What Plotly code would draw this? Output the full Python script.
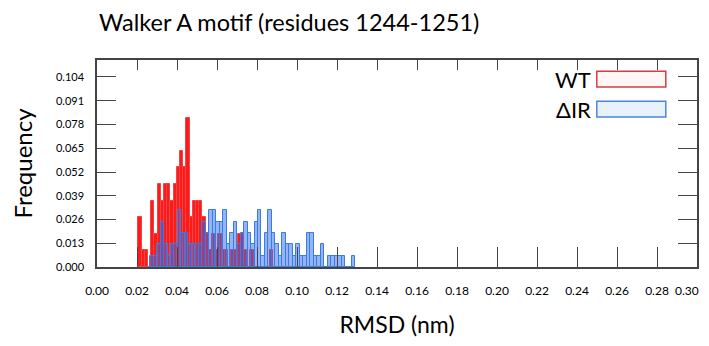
import plotly.graph_objects as go

# ---- data ----
wt_start = 0.0207      # left edge of first WT bin (nm)
wt_width = 0.0016      # WT bin width (nm)
wt_freq = [0.0273, 0.0091, 0.0091, 0.0, 0.0364, 0.0182, 0.0455, 0.0364, 0.0455, 0.0455,
           0.0364, 0.0455, 0.0545, 0.0636, 0.0545, 0.0818, 0.0273, 0.0364, 0.0364, 0.0364,
           0.0273, 0.0182, 0.0091, 0.0182, 0.0091, 0.0182, 0.0091, 0.0091, 0.0, 0.0091,
           0.0091, 0.0182, 0.0182, 0.0091, 0.0, 0.0091, 0.0, 0.0, 0.0, 0.0, 0.0, 0.0091]

dir_start = 0.02655    # left edge of first ΔIR bin (nm)
dir_width = 0.00174    # ΔIR bin width (nm)
dir_freq = [0.0062, 0.0062, 0.0124, 0.0248, 0.0124, 0.0062, 0.0124, 0.0124, 0.0310, 0.0186,
            0.0186, 0.0124, 0.0124, 0.0124, 0.0124, 0.0248, 0.0186,
            0.0310, 0.0310, 0.0248, 0.0248, 0.0310, 0.0124, 0.0186, 0.0248, 0.0124, 0.0186,
            0.0248, 0.0186, 0.0124, 0.0248, 0.0310, 0.0062, 0.0186, 0.0310, 0.0186, 0.0124,
            0.0062, 0.0186,
            0.0124, 0.0124, 0.0062, 0.0124, 0.0062, 0.0062, 0.0186, 0.0186, 0.0062, 0.0062,
            0.0124, 0.0, 0.0062, 0.0062, 0.0062, 0.0062, 0.0062, 0.0, 0.0, 0.0062]

x_ticks = [0.00, 0.02, 0.04, 0.06, 0.08, 0.10, 0.12, 0.14, 0.16, 0.18, 0.20, 0.22, 0.24, 0.26, 0.28, 0.30]
y_ticks = [0.000, 0.013, 0.026, 0.039, 0.052, 0.065, 0.078, 0.091, 0.104]
series_names = ["WT", "ΔIR"]
title_text = "Walker A motif (residues 1244-1251)"
x_title = "RMSD (nm)"
y_title = "Frequency"

wt_x = [wt_start + (i + 0.5) * wt_width for i in range(len(wt_freq))]
dir_x = [dir_start + (i + 0.5) * dir_width for i in range(len(dir_freq))]

# tick labels; the last one is drawn as an annotation so it is not clipped at the page edge
x_ticktext = [f"{v:.2f}" for v in x_ticks[:-1]] + [""]

FONT = "Lato"
fig = go.Figure()
fig.add_trace(go.Bar(x=wt_x, y=wt_freq, width=wt_width, name=series_names[0],
                     marker=dict(color="rgba(255,0,0,0.9)",
                                 line=dict(color="rgba(240,70,70,1)", width=1))))
fig.add_trace(go.Bar(x=dir_x, y=dir_freq, width=dir_width, name=series_names[1],
                     marker=dict(color="rgba(45,105,235,0.5)",
                                 line=dict(color="rgba(55,125,230,1)", width=1))))
# invisible helper trace so the top axis is drawn
fig.add_trace(go.Scatter(x=[0], y=[0], xaxis="x2", yaxis="y", mode="markers",
                         marker=dict(opacity=0), hoverinfo="skip", showlegend=False))

fig.update_layout(
    width=701, height=330,
    margin=dict(l=89, r=12, t=52, b=71),
    paper_bgcolor="white", plot_bgcolor="white",
    barmode="overlay", bargap=0,
    showlegend=False,
    font=dict(family=FONT, color="black"),
    xaxis=dict(range=[0, 0.30], tickvals=x_ticks, ticktext=x_ticktext, automargin=False,
               ticks="inside", ticklen=20, tickcolor="#444", tickwidth=1.2,
               showline=True, linecolor="#444", linewidth=1.5, mirror=False,
               showgrid=False, zeroline=False, tickfont=dict(size=12, family=FONT),
               ticklabelstandoff=12,
               title=dict(text=x_title, font=dict(size=23, family=FONT), standoff=22)),
    xaxis2=dict(range=[0, 0.30], tickvals=x_ticks, overlaying="x", side="top",
                matches="x", ticks="inside", ticklen=10, tickcolor="#444", tickwidth=1.2,
                showline=True, linecolor="#444", linewidth=1.5, showticklabels=False,
                showgrid=False, zeroline=False, automargin=False),
    yaxis=dict(range=[0, 0.1133], tickvals=y_ticks, tickformat=".3f", automargin=False,
               ticks="inside", ticklen=19, tickcolor="#444", tickwidth=1.2,
               showline=True, linecolor="#444", linewidth=1.5, mirror="ticks",
               showgrid=False, zeroline=False, tickfont=dict(size=11, family=FONT),
               ticklabelstandoff=9,
               title=dict(text=y_title, font=dict(size=24, family=FONT), standoff=32)),
)

fig.add_annotation(text=f"{x_ticks[-1]:.2f}", xref="x", yref="paper", x=x_ticks[-1],
                   y=-0.112, xanchor="right", yanchor="middle", xshift=4,
                   showarrow=False, font=dict(size=12, family=FONT, color="black"))

fig.add_annotation(text=title_text, xref="paper", yref="paper", x=0.0, y=1.184,
                   xanchor="left", yanchor="middle", showarrow=False,
                   font=dict(size=23.5, family=FONT, color="black"))

# legend drawn manually: text to the left of outlined swatch
leg = [(series_names[0], 0.908, "rgb(215,60,70)", "rgba(255,246,246,1)"),
       (series_names[1], 0.763, "rgb(75,135,215)", "rgba(232,242,253,1)")]
for name, yc, lc, fc in leg:
    fig.add_shape(type="rect", xref="paper", yref="paper",
                  x0=0.833, x1=0.948, y0=yc - 0.038, y1=yc + 0.038,
                  line=dict(color=lc, width=1.5), fillcolor=fc, layer="above")
    fig.add_annotation(text=name, xref="paper", yref="paper", x=0.826, y=yc,
                       xanchor="right", yanchor="middle", showarrow=False,
                       font=dict(size=22, family=FONT, color="black"))

fig.write_html("out.html")
